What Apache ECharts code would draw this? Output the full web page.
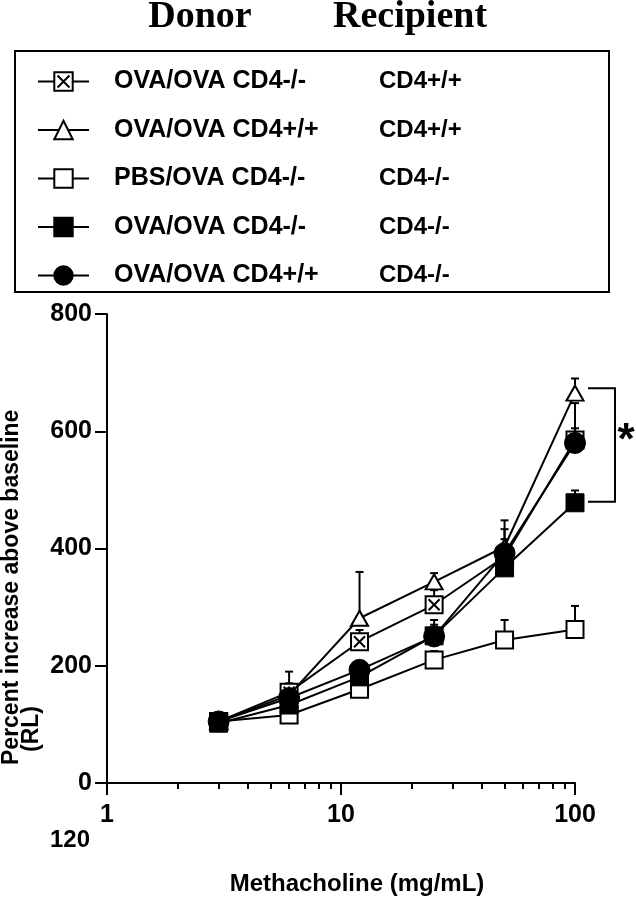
<!DOCTYPE html>
<html><head><meta charset="utf-8">
<script src="https://cdn.jsdelivr.net/npm/echarts@6/dist/echarts.min.js"></script>
<style>html,body{margin:0;padding:0;background:#fff}#c{width:636px;height:900px}</style>
</head><body><div id="c"></div>
<script>
// ---- data ----
const doses = [3, 6, 12, 25, 50, 100];
const donors = ['OVA/OVA CD4-/-', 'OVA/OVA CD4+/+', 'PBS/OVA CD4-/-', 'OVA/OVA CD4-/-', 'OVA/OVA CD4+/+'];
const recipients = ['CD4+/+', 'CD4+/+', 'CD4-/-', 'CD4-/-', 'CD4-/-'];
const crossSqVals = [105, 155, 241, 304, 386, 585];
const crossSqErr  = [0, 35, 20, 25, 30, 20];
const triVals     = [105, 150, 281, 343, 403, 665];
const triErr      = [0, 20, 79, 15, 45, 25];
const openSqVals  = [105, 116, 160, 210, 244, 262];
const openSqErr   = [0, 15, 15, 15, 34, 40];
const fillSqVals  = [102, 133, 181, 251, 367, 478];
const fillSqErr   = [0, 15, 15, 27, 30, 21];
const circVals    = [105, 145, 193, 250, 392, 580];
const circErr     = [0, 15, 15, 20, 41, 68];
const xMajorTicks = [1, 10, 100];
const xMinorTicks = [2, 3, 4, 5, 6, 7, 8, 9, 20, 30, 40, 50, 60, 70, 80, 90];
const yTicks = [0, 200, 400, 600, 800];
const strayLabel = '120';

const FONT = "'Liberation Sans', Arial, sans-serif";
const SERIF = "'Liberation Serif', 'Times New Roman', serif";
const names = donors.map((d, i) => d + '  ' + recipients[i]);

// order matches donors / recipients
const groups = [
  {vals: crossSqVals, err: crossSqErr, symbol: 'path://M0,0H20V20H0Z M3.5,3.5L16.5,16.5 M16.5,3.5L3.5,16.5', size: 17, fill: '#fff', bw: 2, z: 3},
  {vals: triVals, err: triErr, symbol: 'triangle', size: [17, 15], fill: '#fff', bw: 2, z: 4},
  {vals: openSqVals, err: openSqErr, symbol: 'rect', size: 17, fill: '#fff', bw: 2, z: 2},
  {vals: fillSqVals, err: fillSqErr, symbol: 'rect', size: 18, fill: '#000', bw: 1, z: 6},
  {vals: circVals, err: circErr, symbol: 'circle', size: 21, fill: '#000', bw: 1, z: 5}
];

function renderErr(params, api) {
  const p0 = api.coord([api.value(0), api.value(1)]);
  const p1 = api.coord([api.value(0), api.value(2)]);
  const w = 4;
  return {type: 'group', children: [
    {type: 'line', shape: {x1: p0[0], y1: p0[1], x2: p1[0], y2: p1[1]}, style: {stroke: '#000', lineWidth: 2}},
    {type: 'line', shape: {x1: p1[0] - w, y1: p1[1], x2: p1[0] + w, y2: p1[1]}, style: {stroke: '#000', lineWidth: 2}}
  ]};
}

const series = [];
groups.forEach((g, i) => {
  series.push({
    type: 'custom', name: 'err' + i, renderItem: renderErr, clip: false, z: 1,
    data: doses.map((d, k) => [d, g.vals[k], g.vals[k] + g.err[k]]).filter((r, k) => g.err[k] > 0)
  });
});
groups.forEach((g, i) => {
  series.push({
    type: 'line', name: names[i], clip: false, z: g.z,
    data: doses.map((d, k) => [d, g.vals[k]]),
    symbol: g.symbol, symbolSize: g.size, showAllSymbol: true,
    lineStyle: {color: '#000', width: 2},
    itemStyle: {color: g.fill, borderColor: '#000', borderWidth: g.bw},
    emphasis: {disabled: true}, animation: false
  });
});

const chart = echarts.init(document.getElementById('c'));
const axisLabelStyle = {color: '#000', fontFamily: FONT, fontWeight: 'bold', fontSize: 25};
chart.setOption({
  backgroundColor: '#fff',
  animation: false,
  grid: {left: 107, right: 61, top: 314, bottom: 117, containLabel: false},
  xAxis: [{
    type: 'log', logBase: 10, min: 1, max: 100, position: 'bottom',
    axisLine: {lineStyle: {color: '#000', width: 2}},
    axisTick: {show: true, inside: false, length: 12, lineStyle: {color: '#000', width: 2}, customValues: xMajorTicks},
    axisLabel: Object.assign({margin: 20, customValues: xMajorTicks}, axisLabelStyle),
    splitLine: {show: false}, minorTick: {show: false}
  }, {
    type: 'log', logBase: 10, min: 1, max: 100, position: 'bottom', gridIndex: 0,
    axisLine: {show: false},
    axisTick: {show: true, inside: false, length: 6, lineStyle: {color: '#000', width: 2}, customValues: xMinorTicks},
    axisLabel: {show: false},
    splitLine: {show: false}
  }],
  yAxis: {
    type: 'value', min: 0, max: 800, interval: 200,
    axisLine: {show: true, lineStyle: {color: '#000', width: 2}},
    axisTick: {show: true, length: 12, lineStyle: {color: '#000', width: 2}},
    axisLabel: Object.assign({margin: 15}, axisLabelStyle),
    splitLine: {show: false}
  },
  legend: {
    data: names, orient: 'vertical', left: 32, top: 64, padding: 5,
    itemWidth: 51, itemHeight: 23, itemGap: 23.5, selectedMode: false,
    formatter: function (name) {
      const i = names.indexOf(name);
      return '{s|}{a|' + donors[i] + '}{b|' + recipients[i] + '}';
    },
    textStyle: {
      color: '#000', fontFamily: FONT, fontWeight: 'bold', fontSize: 25,
      rich: {
        s: {width: 20},
        a: {width: 265, fontFamily: FONT, fontWeight: 'bold', fontSize: 25, color: '#000'},
        b: {fontFamily: FONT, fontWeight: 'bold', fontSize: 24, color: '#000'}
      }
    }
  },
  series: series
});

const pTop = chart.convertToPixel({gridIndex: 0}, [100, triVals[5]]);
const pBot = chart.convertToPixel({gridIndex: 0}, [100, fillSqVals[5]]);
const bx0 = pTop[0] + 13, bx1 = pTop[0] + 40;
const by0 = pTop[1] - 5, by1 = pBot[1] - 1;

chart.setOption({
  graphic: [
    {type: 'rect', shape: {x: 15, y: 51, width: 594, height: 241}, style: {fill: 'none', stroke: '#000', lineWidth: 2}, z: 0},
    {type: 'text', x: 200, y: 17, style: {text: 'Donor', font: 'bold 38px ' + SERIF, fill: '#000', align: 'center', verticalAlign: 'middle'}},
    {type: 'text', x: 410, y: 17, style: {text: 'Recipient', font: 'bold 38px ' + SERIF, fill: '#000', align: 'center', verticalAlign: 'middle'}},
    {type: 'text', x: 12, y: 765, rotation: Math.PI / 2, style: {text: 'Percent increase above baseline', font: 'bold 23px ' + FONT, fill: '#000', align: 'left', verticalAlign: 'middle'}},
    {type: 'text', x: 32, y: 752, rotation: Math.PI / 2, style: {text: '(RL)', font: 'bold 23px ' + FONT, fill: '#000', align: 'left', verticalAlign: 'middle'}},
    {type: 'text', x: 357, y: 884, style: {text: 'Methacholine (mg/mL)', font: 'bold 24px ' + FONT, fill: '#000', align: 'center', verticalAlign: 'middle'}},
    {type: 'text', x: 70, y: 840, style: {text: strayLabel, font: 'bold 24px ' + FONT, fill: '#000', align: 'center', verticalAlign: 'middle'}},
    {type: 'polyline', shape: {points: [[bx0, by0], [bx1, by0], [bx1, by1], [bx0, by1]]}, style: {fill: 'none', stroke: '#000', lineWidth: 2}},
    {type: 'text', x: bx1 + 11, y: (by0 + by1) / 2 - 3, style: {text: '*', font: 'bold 44px ' + FONT, fill: '#000', align: 'center', verticalAlign: 'middle'}}
  ]
});
</script>
</body></html>
